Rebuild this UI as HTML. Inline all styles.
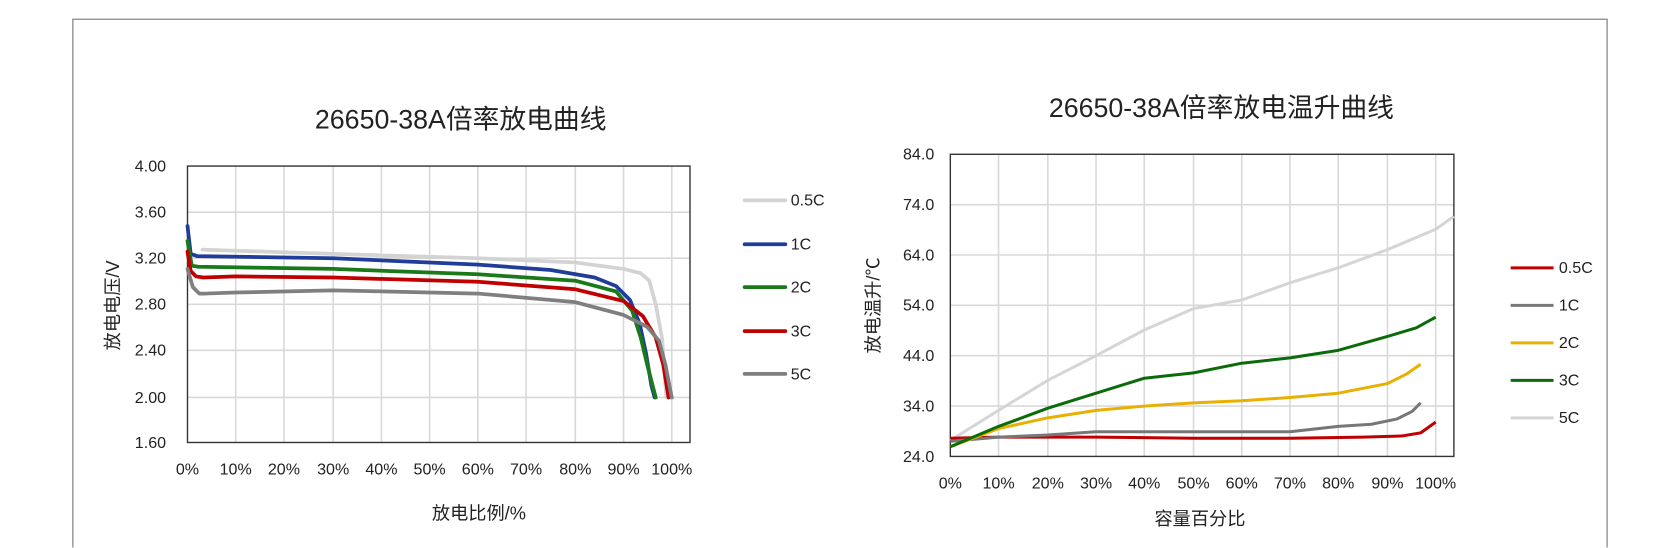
<!DOCTYPE html>
<html><head><meta charset="utf-8"><style>
html,body{margin:0;padding:0;background:#fff;width:1680px;height:548px;overflow:hidden;}
svg{display:block;font-family:"Liberation Sans","Noto Sans CJK SC",sans-serif;}
</style></head><body>
<svg width="1680" height="548" viewBox="0 0 1680 548" xmlns="http://www.w3.org/2000/svg">
<rect x="0" y="0" width="1680" height="548" fill="#fff"/>
<g transform="scale(1.0714)">
<path d="M68 511 V18 H1500 V511" fill="none" stroke="#888" stroke-width="1.2"/>

<!-- LEFT CHART -->
<text x="430" y="120" font-size="25" text-anchor="middle" fill="#222">26650-38A倍率放电曲线</text>
<g stroke="#d9d9d9" stroke-width="1.5">
<line x1="175" y1="198" x2="644" y2="198"/><line x1="175" y1="241" x2="644" y2="241"/>
<line x1="175" y1="284" x2="644" y2="284"/><line x1="175" y1="327" x2="644" y2="327"/>
<line x1="175" y1="371" x2="644" y2="371"/>
<line x1="220" y1="155" x2="220" y2="413"/><line x1="265" y1="155" x2="265" y2="413"/>
<line x1="311" y1="155" x2="311" y2="413"/><line x1="356" y1="155" x2="356" y2="413"/>
<line x1="401" y1="155" x2="401" y2="413"/><line x1="446" y1="155" x2="446" y2="413"/>
<line x1="491" y1="155" x2="491" y2="413"/><line x1="537" y1="155" x2="537" y2="413"/>
<line x1="582" y1="155" x2="582" y2="413"/><line x1="627" y1="155" x2="627" y2="413"/>
</g>
<rect x="175" y="155" width="469" height="258" fill="none" stroke="#333" stroke-width="1.3"/>
<g font-size="15" fill="#222" text-anchor="end">
<text x="155" y="160">4.00</text><text x="155" y="203">3.60</text><text x="155" y="246">3.20</text>
<text x="155" y="289">2.80</text><text x="155" y="332">2.40</text><text x="155" y="376">2.00</text>
<text x="155" y="418">1.60</text></g>
<g font-size="15" fill="#222" text-anchor="middle">
<text x="175" y="443">0%</text><text x="220" y="443">10%</text><text x="265" y="443">20%</text>
<text x="311" y="443">30%</text><text x="356" y="443">40%</text><text x="401" y="443">50%</text>
<text x="446" y="443">60%</text><text x="491" y="443">70%</text><text x="537" y="443">80%</text>
<text x="582" y="443">90%</text><text x="627" y="443">100%</text></g>
<text x="447" y="485" font-size="17" text-anchor="middle" fill="#222">放电比例/%</text>
<text transform="translate(111,285) rotate(-90)" font-size="17" text-anchor="middle" fill="#222">放电电压/V</text>
<g fill="none" stroke-width="3.5" stroke-linejoin="round" stroke-linecap="round">
<polyline stroke="#d3d3d3" points="189,233 220,234 311,237 446,241 537,245 582,251 598,255 606,262 612,284 618,316 622,371"/>
<polyline stroke="#1f3d99" points="175,211 178,237 184,239 311,241 446,247 514,252 555,259 575,267 588,280 597,302 603,330 608,360 611,371"/>
<polyline stroke="#1a7a1a" points="175,225 179,248 185,249 311,251 446,256 537,262 575,272 590,290 598,315 604,340 612,371"/>
<polyline stroke="#c00000" points="175,235 178,253 183,258 190,259 220,258 311,259 446,263 537,270 582,281 600,295 612,315 619,340 624,371"/>
<polyline stroke="#7f7f7f" points="175,251 180,268 186,274 192,274 220,273 311,271 446,274 537,282 582,294 604,305 615,318 621,340 627,371"/>
</g>
<g stroke-width="3.5" stroke-linecap="round">
<line x1="695" y1="187" x2="733" y2="187" stroke="#d3d3d3"/>
<line x1="695" y1="228" x2="733" y2="228" stroke="#1f3d99"/>
<line x1="695" y1="268" x2="733" y2="268" stroke="#1a7a1a"/>
<line x1="695" y1="309" x2="733" y2="309" stroke="#c00000"/>
<line x1="695" y1="349" x2="733" y2="349" stroke="#7f7f7f"/>
</g>
<g font-size="15" fill="#222">
<text x="738" y="192">0.5C</text><text x="738" y="233">1C</text><text x="738" y="273">2C</text>
<text x="738" y="314">3C</text><text x="738" y="354">5C</text></g>

<!-- RIGHT CHART -->
<text x="1140" y="109" font-size="25" text-anchor="middle" fill="#222">26650-38A倍率放电温升曲线</text>
<g stroke="#d9d9d9" stroke-width="1.5">
<line x1="887" y1="191" x2="1357" y2="191"/><line x1="887" y1="238" x2="1357" y2="238"/>
<line x1="887" y1="285" x2="1357" y2="285"/><line x1="887" y1="332" x2="1357" y2="332"/>
<line x1="887" y1="379" x2="1357" y2="379"/>
<line x1="932" y1="144" x2="932" y2="426"/><line x1="978" y1="144" x2="978" y2="426"/>
<line x1="1023" y1="144" x2="1023" y2="426"/><line x1="1068" y1="144" x2="1068" y2="426"/>
<line x1="1114" y1="144" x2="1114" y2="426"/><line x1="1159" y1="144" x2="1159" y2="426"/>
<line x1="1204" y1="144" x2="1204" y2="426"/><line x1="1249" y1="144" x2="1249" y2="426"/>
<line x1="1295" y1="144" x2="1295" y2="426"/><line x1="1340" y1="144" x2="1340" y2="426"/>
</g>
<rect x="887" y="144" width="470" height="282" fill="none" stroke="#333" stroke-width="1.3"/>
<g font-size="15" fill="#222" text-anchor="end">
<text x="872" y="149">84.0</text><text x="872" y="196">74.0</text><text x="872" y="243">64.0</text>
<text x="872" y="290">54.0</text><text x="872" y="337">44.0</text><text x="872" y="384">34.0</text>
<text x="872" y="431">24.0</text></g>
<g font-size="15" fill="#222" text-anchor="middle">
<text x="887" y="456">0%</text><text x="932" y="456">10%</text><text x="978" y="456">20%</text>
<text x="1023" y="456">30%</text><text x="1068" y="456">40%</text><text x="1114" y="456">50%</text>
<text x="1159" y="456">60%</text><text x="1204" y="456">70%</text><text x="1249" y="456">80%</text>
<text x="1295" y="456">90%</text><text x="1340" y="456">100%</text></g>
<text x="1120" y="490" font-size="17" text-anchor="middle" fill="#222">容量百分比</text>
<text transform="translate(821,285) rotate(-90)" font-size="17" text-anchor="middle" fill="#222">放电温升/℃</text>
<g fill="none" stroke-width="2.8" stroke-linejoin="round">
<polyline stroke="#d5d5d5" points="887,411 932,383 978,355 1023,332 1068,308 1114,288 1159,280 1204,264 1249,250 1295,233 1340,214 1357,202"/>
<polyline stroke="#c00000" points="887,409 932,408 1023,408 1114,409 1204,409 1272,408 1308,407 1326,404 1340,394"/>
<polyline stroke="#777777" points="887,412 932,408 978,406 1023,403 1114,403 1204,403 1249,398 1280,396 1304,391 1318,384 1326,376"/>
<polyline stroke="#e8b000" points="887,417 932,400 978,390 1023,383 1068,379 1114,376 1159,374 1204,371 1249,367 1295,358 1313,349 1326,340"/>
<polyline stroke="#0b6b0b" points="887,417 932,398 978,381 1023,367 1068,353 1114,348 1159,339 1204,334 1249,327 1295,314 1322,306 1331,301 1340,296"/>
</g>
<g stroke-width="2.8">
<line x1="1410" y1="250" x2="1450" y2="250" stroke="#c00000"/>
<line x1="1410" y1="285" x2="1450" y2="285" stroke="#777777"/>
<line x1="1410" y1="320" x2="1450" y2="320" stroke="#e8b000"/>
<line x1="1410" y1="355" x2="1450" y2="355" stroke="#0b6b0b"/>
<line x1="1410" y1="390" x2="1450" y2="390" stroke="#d5d5d5"/>
</g>
<g font-size="15" fill="#222">
<text x="1455" y="255">0.5C</text><text x="1455" y="290">1C</text><text x="1455" y="325">2C</text>
<text x="1455" y="360">3C</text><text x="1455" y="395">5C</text></g>
</g>
</svg>
</body></html>
